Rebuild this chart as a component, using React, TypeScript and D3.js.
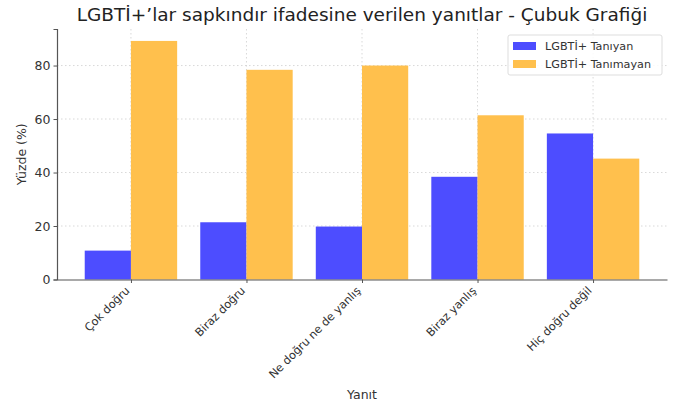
import { useEffect, useRef } from "react";
import * as d3 from "d3";

const categories = ["Çok doğru", "Biraz doğru", "Ne doğru ne de yanlış", "Biraz yanlış", "Hiç doğru değil"];
const knowsValues = [10.8, 21.4, 19.8, 38.4, 54.6];
const notKnowsValues = [89.2, 78.4, 80.0, 61.4, 45.2];
const seriesNames = ["LGBTİ+ Tanıyan", "LGBTİ+ Tanımayan"];
const yTicks = [0, 20, 40, 60, 80];

const App = () => {
  const svgRef = useRef<SVGSVGElement>(null);

  useEffect(() => {
    const W = 690, H = 412;
    const margin = { top: 29, right: 23, bottom: 132.5, left: 57 };
    const width = W - margin.left - margin.right;
    const height = H - margin.top - margin.bottom;
    const font = "DejaVu Sans, sans-serif";

    const svg = d3.select(svgRef.current);
    svg.selectAll("*").remove();
    svg.attr("width", W).attr("height", H);

    const g = svg.append("g").attr("transform", `translate(${margin.left},${margin.top})`);

    // indices as numeric x, matplotlib-style margins
    const x = d3.scaleLinear().domain([-0.64, categories.length - 1 + 0.64]).range([0, width]);
    const yMax = d3.max([...knowsValues, ...notKnowsValues])! * 1.05;
    const y = d3.scaleLinear().domain([0, yMax]).range([height, 0]);
    const bw = 0.4;

    // grid
    g.append("g").selectAll("line").data(yTicks.slice(1)).enter().append("line")
      .attr("x1", 0).attr("x2", width)
      .attr("y1", d => y(d)).attr("y2", d => y(d))
      .attr("stroke", "#cfcfcf").attr("stroke-dasharray", "1.5,2.5").attr("stroke-width", 0.8);
    g.append("g").selectAll("line").data(categories).enter().append("line")
      .attr("x1", (d, i) => x(i)).attr("x2", (d, i) => x(i))
      .attr("y1", 0).attr("y2", height)
      .attr("stroke", "#cfcfcf").attr("stroke-dasharray", "1.5,2.5").attr("stroke-width", 0.8);

    const colors = ["rgb(77,77,255)", "rgb(255,192,77)"];
    [knowsValues, notKnowsValues].forEach((vals, s) => {
      g.append("g").selectAll("rect").data(vals).enter().append("rect")
        .attr("x", (d, i) => x(i - bw + s * bw))
        .attr("width", x(bw) - x(0))
        .attr("y", d => y(d))
        .attr("height", d => y(0) - y(d))
        .attr("fill", colors[s]);
    });

    // axes
    const yAxis = d3.axisLeft(y).tickValues(yTicks).tickSize(3.5).tickPadding(3);
    const ya = g.append("g").call(yAxis);
    ya.select(".domain").attr("stroke", "#555").attr("stroke-width", 1.2);
    ya.selectAll(".tick line").attr("stroke", "#555");
    ya.selectAll("text").attr("font-family", font).attr("font-size", 12.5).attr("fill", "#333");

    const xAxis = d3.axisBottom(x).tickValues(d3.range(categories.length))
      .tickFormat((d) => categories[d as number]).tickSize(3.5).tickSizeOuter(0);
    const xa = g.append("g").attr("transform", `translate(0,${height})`).call(xAxis);
    xa.select(".domain").attr("stroke", "#555").attr("stroke-width", 1.2);
    xa.selectAll(".tick line").attr("stroke", "#555");
    xa.selectAll("text")
      .attr("font-family", font).attr("font-size", 11.3).attr("fill", "#333")
      .attr("text-anchor", "end").attr("dy", "0.35em").attr("y", 0)
      .attr("transform", "translate(-4,9) rotate(-45)");

    // labels
    svg.append("text").attr("x", margin.left + width / 2).attr("y", 21)
      .attr("text-anchor", "middle").attr("font-family", font).attr("font-size", 18.5).attr("fill", "#222")
      .text("LGBTİ+’lar sapkındır ifadesine verilen yanıtlar - Çubuk Grafiği");
    svg.append("text").attr("x", margin.left + width / 2).attr("y", 399)
      .attr("text-anchor", "middle").attr("font-family", font).attr("font-size", 12.5).attr("fill", "#333")
      .text("Yanıt");
    svg.append("text").attr("transform", `translate(26,${margin.top + height / 2}) rotate(-90)`)
      .attr("text-anchor", "middle").attr("font-family", font).attr("font-size", 12.5).attr("fill", "#333")
      .text("Yüzde (%)");

    // legend
    const lg = svg.append("g").attr("transform", "translate(508,35)");
    lg.append("rect").attr("width", 154).attr("height", 40).attr("rx", 2)
      .attr("fill", "white").attr("fill-opacity", 0.85).attr("stroke", "#ddd");
    seriesNames.forEach((name, i) => {
      lg.append("rect").attr("x", 5).attr("y", 7 + i * 18).attr("width", 23).attr("height", 8).attr("fill", colors[i]);
      lg.append("text").attr("x", 37).attr("y", 11 + i * 18).attr("dy", "0.35em")
        .attr("font-family", font).attr("font-size", 11.2).attr("fill", "#333").text(name);
    });
  }, []);

  return <svg ref={svgRef} style={{ position: "absolute", left: 0, top: 0 }}></svg>;
};

export default App;
